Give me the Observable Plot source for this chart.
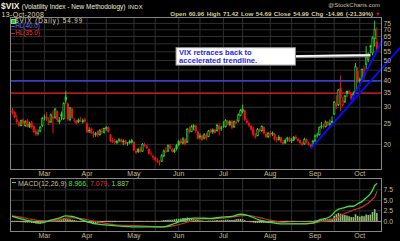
<!DOCTYPE html>
<html><head><meta charset="utf-8">
<script src="https://cdn.jsdelivr.net/npm/d3@7"></script>
<script src="https://cdn.jsdelivr.net/npm/@observablehq/plot@0.6"></script>
<style>
html,body{margin:0;padding:0;background:#000;}
#chart{position:relative;width:400px;height:241px;background:#000;overflow:hidden;font-family:"Liberation Sans",Arial,sans-serif;}
.t{position:absolute;white-space:pre;line-height:1;}
.p{position:absolute;left:0;}
.sw{position:absolute;}
</style></head><body><div id="chart"></div>
<script>
// ---- daily OHLC, 8-Feb-2008 .. 13-Oct-2008 (trading-day index 0..171) ----
const open = [
28.9,28.3,26.2,25.3,24.3,26.0,24.3,25.8,24.0,25.3,
24.3,23.0,22.4,22.9,24.4,26.9,26.9,25.8,25.3,26.9,
26.6,28.6,25.4,27.8,26.2,33.5,31.0,26.0,29.4,25.9,
25.8,25.4,25.7,25.4,26.1,25.0,22.9,23.6,22.2,22.0,
22.9,22.0,23.0,22.6,23.6,24.0,22.1,20.8,20.6,20.2,
20.7,21.0,20.4,20.8,20.1,20.2,20.3,20.4,18.5,18.3,
18.9,18.4,19.9,19.6,18.9,18.0,17.5,17.2,16.7,16.4,
16.5,17.5,18.5,18.4,19.6,18.9,18.3,18.9,19.7,20.6,
20.1,21.0,20.3,23.4,22.8,24.0,24.4,22.9,21.5,21.9,
21.2,22.0,21.6,23.3,22.7,23.4,23.0,24.4,23.6,24.1,
24.1,25.6,24.6,25.6,24.0,25.4,25.6,27.2,28.4,28.9,
25.8,25.1,24.3,23.6,21.8,21.8,23.4,23.0,24.0,22.3,
21.5,22.5,22.2,22.3,21.0,20.9,21.5,20.4,20.1,21.0,
21.3,20.6,20.8,21.6,21.1,20.8,20.1,19.9,21.0,20.3,
19.8,19.5,20.6,21.9,22.0,24.0,24.2,24.1,25.4,24.6,
25.1,27.6,31.0,30.6,36.9,30.6,31.5,34.6,35.5,34.5,
33.9,34.8,44.5,40.5,40.3,42.0,47.5,50.2,58.5,53.8,
63.0,60.96];
const high = [
29.6,28.6,27.4,25.6,26.1,26.4,25.9,26.2,25.5,25.7,
24.5,23.6,23.4,24.3,26.9,27.6,28.3,26.7,27.9,28.9,
29.6,28.8,26.8,28.5,31.5,35.6,31.5,29.9,29.6,26.6,
26.0,26.4,26.9,26.4,26.6,25.3,24.0,23.9,23.1,22.8,
23.2,23.5,23.8,23.9,24.3,24.2,22.3,21.4,21.1,20.9,
21.3,21.2,21.0,20.9,20.4,20.9,21.1,20.6,19.0,19.2,
19.4,20.2,20.3,19.8,19.1,18.4,17.8,17.4,17.1,16.7,
17.9,18.8,19.3,19.9,20.0,19.2,19.1,20.0,20.9,21.2,
21.5,21.3,23.8,24.2,24.6,24.8,24.6,23.1,22.4,22.1,
22.5,22.6,23.3,23.6,23.7,23.5,24.9,25.0,24.4,25.6,
26.2,26.0,25.9,26.0,25.8,26.2,27.9,29.3,30.7,29.0,
26.4,25.5,24.6,24.1,22.5,23.8,23.7,24.5,24.2,22.8,
22.7,23.0,22.9,22.5,21.6,22.0,21.6,20.9,21.2,21.6,
21.6,21.3,21.8,22.0,21.4,21.0,20.5,21.4,21.2,20.5,
20.0,20.9,22.2,22.6,24.2,25.4,24.9,25.8,25.6,26.1,
27.0,31.9,34.0,36.4,42.2,33.6,34.1,35.8,36.0,35.0,
35.5,48.4,46.2,41.3,45.6,47.1,58.2,54.3,59.1,64.9,
76.9,71.42];
const low = [
27.6,26.4,24.9,24.1,24.2,24.6,24.1,23.9,23.8,23.6,
22.5,21.8,21.9,22.7,24.0,25.8,25.7,24.6,25.1,22.4,
26.3,25.4,24.8,25.9,26.0,31.0,25.7,25.6,26.2,25.2,
24.7,25.1,25.4,25.0,25.2,22.6,22.5,22.3,21.4,21.6,
21.6,21.9,22.3,22.4,23.1,22.6,20.3,20.2,19.9,19.9,
20.3,20.1,19.7,19.9,19.6,20.0,20.1,18.5,17.9,18.1,
18.2,18.3,19.3,18.9,17.8,17.5,16.8,16.5,16.2,15.8,
16.4,17.3,18.1,18.3,18.9,18.2,18.1,18.6,19.5,19.9,
19.9,19.6,20.2,22.4,22.7,23.2,22.6,21.0,21.0,20.7,
21.0,20.8,21.5,22.5,22.3,22.4,22.9,21.9,23.0,23.8,
23.9,24.5,24.3,23.5,23.8,24.8,25.3,27.0,27.9,25.7,
24.9,24.0,23.1,21.7,21.2,21.7,22.7,22.8,22.2,21.3,
21.3,21.6,21.8,20.7,20.4,20.7,20.2,19.8,20.0,20.5,
20.4,20.2,20.6,21.0,20.5,19.9,19.6,19.8,20.1,19.6,
19.1,19.4,20.4,21.4,21.9,23.6,23.6,23.9,24.3,24.2,
24.9,27.4,29.2,30.2,28.6,30.0,31.3,33.3,34.3,32.2,
32.5,34.6,38.8,37.6,39.6,40.3,45.1,48.8,53.6,52.6,
57.9,54.69];
const close = [
28.0,26.7,25.4,24.4,25.9,25.0,25.6,24.1,25.0,24.0,
22.8,22.2,22.6,24.1,26.5,26.7,26.1,25.2,27.6,26.4,
29.4,25.9,26.0,27.0,31.2,32.2,26.2,29.8,26.6,25.8,
25.0,26.1,25.7,25.9,25.6,22.7,23.3,22.5,22.4,22.5,
22.0,23.2,22.7,23.8,24.0,22.8,20.6,20.4,20.3,20.6,
21.0,20.5,20.7,20.0,20.3,20.6,20.8,18.6,18.2,18.9,
18.4,20.0,19.6,19.1,18.0,17.9,17.2,16.8,16.5,16.3,
17.6,18.6,18.4,19.7,19.0,18.4,18.8,19.7,20.6,20.2,
21.2,20.0,23.6,22.9,24.2,24.5,23.0,21.2,21.9,20.9,
22.2,21.3,23.1,22.7,23.4,22.6,24.6,23.4,23.9,24.2,
25.9,24.9,25.6,23.9,25.6,25.2,27.6,28.9,29.4,26.0,
25.2,24.4,23.4,22.0,21.6,23.5,23.0,24.3,22.4,21.6,
22.6,22.1,22.6,21.0,20.8,21.6,20.5,20.1,20.9,21.4,
20.6,20.9,21.6,21.2,20.7,20.2,19.8,21.1,20.3,19.8,
19.4,20.7,21.9,22.1,24.0,24.4,24.0,25.5,24.6,25.0,
25.7,31.7,30.3,36.2,33.1,32.1,33.9,35.7,35.1,32.8,
34.7,46.7,39.4,39.8,45.3,45.1,52.1,53.7,57.5,63.9,
69.95,54.99];

// ---- MACD(12,26,9) read at sample days, histogram daily ----
const macdIdx = [0,4,9,13,18,22,25,28,33,38,41,48,57,65,71,76,80,85,88,93,98,103,107,110,116,121,126,135,141,144,149,152,156,158,160,162,164,166,168,169,170,171];
const macdVals = [1.2,0.6,0.0,-0.4,0.3,0.8,1.3,1.2,0.3,-0.5,-0.7,-1.0,-1.3,-1.3,-1.3,-0.5,0.3,0.8,0.8,0.7,1.0,1.2,1.7,1.5,0.3,-0.2,-0.6,-0.6,-0.4,0.3,1.1,2.6,3.3,3.6,3.6,4.2,4.7,5.6,6.6,7.4,8.5,8.966];
const signalVals = [1.3,1.0,0.5,0.2,0.1,0.4,0.7,0.9,0.6,0.1,-0.2,-0.8,-1.0,-1.2,-1.3,-1.0,-0.5,0.3,0.6,0.6,0.8,1.0,1.3,1.4,0.9,0.3,-0.2,-0.5,-0.4,-0.1,0.3,0.8,1.9,2.3,2.7,3.0,3.4,4.0,4.8,5.3,5.8,7.079];
const histVals = [
-0.1,-0.1,-0.2,-0.2,-0.3,-0.3,-0.4,-0.4,-0.4,-0.5,
-0.5,-0.6,-0.6,-0.6,-0.4,-0.3,-0.2,-0.1,0.1,0.2,
0.4,0.3,0.3,0.4,0.6,0.6,0.4,0.4,0.3,0.2,
0.1,0,-0.1,-0.2,-0.2,-0.4,-0.5,-0.5,-0.6,-0.6,
-0.5,-0.4,-0.3,-0.2,-0.2,-0.2,-0.3,-0.3,-0.3,-0.2,
-0.2,-0.2,-0.1,-0.1,-0.1,0,0,-0.1,-0.2,-0.2,
-0.1,-0.1,0,-0.1,-0.1,-0.1,-0.1,-0.1,-0.1,0,
0.1,0.2,0.2,0.3,0.3,0.3,0.4,0.5,0.5,0.6,
0.7,0.7,0.8,0.7,0.6,0.5,0.3,0.2,0.1,0.1,
0,0,0.1,0.1,0.1,0.1,0.2,0.1,0.2,0.2,
0.3,0.3,0.2,0.2,0.3,0.4,0.5,0.5,0.4,0.2,
0,-0.2,-0.3,-0.4,-0.5,-0.5,-0.5,-0.5,-0.5,-0.5,
-0.5,-0.5,-0.4,-0.4,-0.4,-0.4,-0.3,-0.3,-0.2,-0.2,
-0.1,-0.1,-0.1,0,0,0,0,0,0,-0.1,
-0.1,0,0.1,0.2,0.3,0.3,0.4,0.4,0.4,0.5,
0.6,1.2,1.6,1.9,1.7,1.5,1.4,1.3,1.1,0.9,
0.9,1.6,1.2,1.0,1.2,1.1,1.5,1.4,1.5,2.1,
2.8,1.887];

// ---- axes / reference lines / annotation ----
const monthTicks = [15,35,57,78,99,121,142,163];
const monthNames = ["Mar","Apr","May","Jun","Jul","Aug","Sep","Oct"];
const midTicks = [5,25,44,67,88,108,131,151];
const priceTicks = [20,25,30,35,40,45,50,55,60,65,70,75];
const macdTicks = [0,2.5,5,7.5];
const hLineVals = [40, 35];
const hLineColors = ["#4a4aff", "#ee1414"];
const trendLines = [{x1:140, y1:19.1, x2:182, y2:57.6}, {x1:159, y1:32.0, x2:174, y2:63.5}];
const noteLines = ["VIX retraces back to", "accelerated trendline."];
const noteBox = [{x1:77, x2:133, y1:57.2, y2:47.3}];
const noteArrow = [{x1:133, y1:52.2, x2:168, y2:52.8}];
const lastDate = "13-Oct-2008";

const n = close.length - 1;
for (const [name, a] of [["open",open],["high",high],["low",low],["hist",histVals]]) {
  if (a.length !== close.length) throw new Error(name + " length " + a.length + " vs " + close.length);
}
if (macdVals.length !== macdIdx.length || signalVals.length !== macdIdx.length) throw new Error("macd lengths");

const UP = "#2fcf2f", DOWN = "#ee1212";
const candles = close.map((c, i) => ({i, open: open[i], high: high[i], low: low[i], close: c,
  up: i === 0 ? c >= open[i] : c >= close[i - 1]}));
const hollow = candles.filter(d => d.close > d.open && Math.log(d.close / d.open) > 0.045);
const macdData = macdIdx.map((i, k) => ({i, v: macdVals[k]}));
const signalData = macdIdx.map((i, k) => ({i, v: signalVals[k]}));
const histData = histVals.map((h, i) => ({i, h}));

const axisColor = "#c8bc8c";
const gridColor = "#2f2f2f";
const frameColor = "#858585";
const fontFamily = '"Liberation Sans", Arial, sans-serif';
const xScale = {domain: [-0.94, 173.2], label: null};
const style = {background: "transparent", color: axisColor, fontFamily, fontSize: "7px", overflow: "visible"};
const vTicks = monthTicks.concat(midTicks);
const monthFmt = d => monthNames[monthTicks.indexOf(d)];

const mainPlot = Plot.plot({
  width: 400, height: 162,
  marginLeft: 10, marginRight: 19, marginTop: 1, marginBottom: 9,
  style, x: xScale, y: {type: "log", domain: [15.2, 80], label: null},
  marks: [
    Plot.gridY(priceTicks, {stroke: gridColor, strokeOpacity: 1}),
    Plot.gridX(vTicks, {stroke: gridColor, strokeOpacity: 1}),
    Plot.ruleY(hLineVals, {stroke: d => hLineColors[hLineVals.indexOf(d)], strokeWidth: 1.3}),
    Plot.ruleX(candles, {x: "i", y1: "low", y2: "high", stroke: d => d.up ? UP : DOWN, strokeWidth: 1}),
    Plot.ruleX(candles, {x: "i", y1: "open", y2: "close", stroke: d => d.up ? UP : DOWN, strokeWidth: 2.2}),
    Plot.ruleX(hollow, {x: "i", y1: "close", y2: "open", stroke: "#000", strokeWidth: 0.7, insetTop: 1, insetBottom: 1}),
    Plot.link(trendLines, {x1: "x1", y1: "y1", x2: "x2", y2: "y2", stroke: "#0a0aff", strokeWidth: 2}),
    Plot.link(noteArrow, {x1: "x1", y1: "y1", x2: "x2", y2: "y2", stroke: "#8a8a8a", strokeWidth: 3.2}),
    Plot.link(noteArrow, {x1: "x1", y1: "y1", x2: "x2", y2: "y2", stroke: "#ffffff", strokeWidth: 1.6, dy: -0.5}),
    Plot.rect(noteBox, {x1: "x1", x2: "x2", y1: "y1", y2: "y2", fill: "#ffffff", stroke: "#9a9a9a", strokeWidth: 1}),
    Plot.text(noteBox, {x: "x1", y: "y1", text: () => noteLines.join("\n"), dx: 2.5, dy: 0.8,
      lineAnchor: "top", textAnchor: "start", lineHeight: 1.1, fontSize: 7.6, fontWeight: "bold", fill: "#2626de"}),
    Plot.frame({stroke: frameColor}),
    Plot.axisX({ticks: monthTicks, tickFormat: monthFmt, tickSize: 0, tickPadding: 2, fontSize: 7, label: null}),
    Plot.axisY({ticks: priceTicks, anchor: "right", tickSize: 0, tickPadding: 2, tickFormat: d => String(d), fontSize: 6.8, label: null})
  ]
});

const macdPlot = Plot.plot({
  width: 400, height: 71,
  marginLeft: 10, marginRight: 19, marginTop: 8, marginBottom: 10,
  style, x: xScale, y: {domain: [-2.4, 10.2], label: null},
  marks: [
    Plot.gridY(macdTicks, {stroke: gridColor, strokeOpacity: 1}),
    Plot.gridX(vTicks, {stroke: gridColor, strokeOpacity: 1}),
    Plot.ruleY([0], {stroke: "#a89a78", strokeWidth: 1}),
    Plot.ruleX(histData, {x: "i", y1: 0, y2: "h", stroke: d => d.h >= 0 ? "#8fbf72" : "#bba57f", strokeWidth: 1.6}),
    Plot.line(signalData, {x: "i", y: "v", stroke: "#c43232", strokeWidth: 1.2, curve: "monotone-x"}),
    Plot.line(macdData, {x: "i", y: "v", stroke: "#3fe33f", strokeWidth: 1.3, curve: "monotone-x"}),
    Plot.frame({stroke: frameColor}),
    Plot.axisX({ticks: monthTicks, tickFormat: monthFmt, tickSize: 0, tickPadding: 2, fontSize: 7, label: null}),
    Plot.axisY({ticks: macdTicks, anchor: "right", tickSize: 0, tickPadding: 2, tickFormat: d => d.toFixed(1), fontSize: 6.8, label: null})
  ]
});

const root = document.getElementById("chart");
mainPlot.classList.add("p"); mainPlot.style.top = "16px";
macdPlot.classList.add("p"); macdPlot.style.top = "170px";
root.appendChild(mainPlot);
root.appendChild(macdPlot);

function addDiv(cls, css, html) {
  const d = document.createElement("div");
  d.className = cls;
  Object.assign(d.style, css);
  if (html !== undefined) d.innerHTML = html;
  root.appendChild(d);
  return d;
}
const chg = close[n] - close[n - 1];
const pct = chg / close[n - 1] * 100;
const f2 = v => v.toFixed(2);

// header
addDiv("t", {left: "1px", top: "1.8px", fontSize: "8.5px", color: "#f2eed8"},
  '<b>$VIX</b> <span style="font-size:6.5px">(Volatility Index - New Methodology)</span> <span style="font-size:5.8px;letter-spacing:0.3px">INDX</span>');
addDiv("t", {right: "20px", top: "2.4px", fontSize: "6px", color: "#c8c09a"}, "@StockCharts.com");
addDiv("t", {left: "1.5px", top: "10.6px", fontSize: "7px", letterSpacing: "0.35px", color: "#e0d8b8"}, lastDate);
addDiv("t", {right: "27px", top: "11.2px", fontSize: "6.2px", fontWeight: "bold", wordSpacing: "0.8px", color: "#d8cc9c"},
  `Open ${f2(open[n])} High ${f2(high[n])} Low ${f2(low[n])} Close ${f2(close[n])} Chg ${f2(chg)} (${f2(pct)}%)`);
addDiv("t", {left: "375px", top: "12px", fontSize: "5.5px", color: "#ee1111"}, "\u25BC");

// price legend
addDiv("sw", {left: "11px", top: "18.7px", width: "2.6px", height: "3px", background: "#22bb22", border: "0.5px solid #66ee66"});
addDiv("t", {left: "15px", top: "17.8px", fontSize: "6.3px", letterSpacing: "0.95px", color: "#dcd8c4"}, `$VIX (Daily) ${f2(close[n])}`);
addDiv("sw", {left: "11px", top: "25.8px", width: "4px", height: "1.3px", background: hLineColors[0]});
addDiv("t", {left: "15.3px", top: "23.3px", fontSize: "6.3px", color: "#7474ff"}, `HL(${hLineVals[0].toFixed(1)})`);
addDiv("sw", {left: "11px", top: "32.8px", width: "4px", height: "1.3px", background: hLineColors[1]});
addDiv("t", {left: "15.3px", top: "30.2px", fontSize: "6.3px", color: "#ff3434"}, `HL(${hLineVals[1].toFixed(1)})`);

// MACD legend
addDiv("sw", {left: "11.5px", top: "181.8px", width: "4.5px", height: "1.6px", background: "#3fe33f"});
addDiv("t", {left: "18px", top: "179.6px", fontSize: "7px", color: axisColor},
  `MACD(12,26,9) <span style="color:#3fe33f">${macdVals[macdVals.length-1].toFixed(3)},</span> <span style="color:#e03232">${signalVals[signalVals.length-1].toFixed(3)},</span> <span style="color:#8fcf72">${histVals[n].toFixed(3)}</span>`);
</script>
</body></html>
